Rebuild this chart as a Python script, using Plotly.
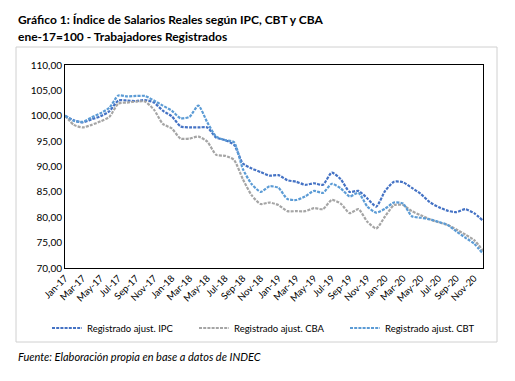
import plotly.graph_objects as go

# ---------------- data ----------------
months = [
    "Jan-17", "Feb-17", "Mar-17", "Apr-17", "May-17", "Jun-17", "Jul-17", "Aug-17", "Sep-17", "Oct-17", "Nov-17", "Dec-17",
    "Jan-18", "Feb-18", "Mar-18", "Apr-18", "May-18", "Jun-18", "Jul-18", "Aug-18", "Sep-18", "Oct-18", "Nov-18", "Dec-18",
    "Jan-19", "Feb-19", "Mar-19", "Apr-19", "May-19", "Jun-19", "Jul-19", "Aug-19", "Sep-19", "Oct-19", "Nov-19", "Dec-19",
    "Jan-20", "Feb-20", "Mar-20", "Apr-20", "May-20", "Jun-20", "Jul-20", "Aug-20", "Sep-20", "Oct-20", "Nov-20", "Dec-20",
]
tick_labels = months[::2]

ipc = [100.0, 99.1, 98.7, 99.3, 99.9, 100.9, 103.0, 103.0, 102.9, 103.1, 102.6, 101.0,
       99.9, 97.9, 97.7, 97.7, 97.7, 95.7, 95.2, 94.3, 90.6, 89.6, 88.9, 88.2,
       88.3, 87.3, 87.0, 86.4, 86.7, 86.4, 88.8, 87.5, 85.0, 85.2, 83.7, 82.1,
       85.2, 87.0, 86.9, 85.8, 84.6, 83.0, 82.0, 81.3, 81.0, 81.6, 80.8, 79.3]

cba = [100.0, 98.2, 97.7, 98.2, 98.9, 99.8, 102.4, 102.6, 102.8, 102.8, 101.2, 98.4,
       97.5, 95.5, 95.5, 95.9, 94.9, 92.3, 92.1, 91.3, 87.5, 84.3, 82.6, 82.9,
       82.4, 81.2, 81.2, 81.2, 81.8, 81.6, 83.4, 82.7, 80.8, 81.6, 79.1, 77.8,
       80.2, 82.4, 82.4, 81.2, 80.4, 79.6, 79.0, 78.5, 77.6, 76.6, 75.5, 73.4]

cbt = [100.0, 99.0, 98.8, 99.7, 100.5, 101.6, 104.0, 103.8, 103.9, 103.9, 103.0, 102.0,
       101.0, 99.5, 99.8, 102.0, 98.7, 95.9, 95.2, 94.8, 89.5, 86.5, 85.0, 86.1,
       85.8, 83.6, 83.4, 84.1, 85.2, 84.8, 86.6, 85.7, 84.1, 84.8, 82.1, 80.9,
       81.7, 82.9, 82.7, 80.2, 79.9, 79.6, 79.1, 78.5, 77.2, 76.0, 74.8, 72.8]

series_names = ["Registrado ajust. IPC", "Registrado ajust. CBA", "Registrado ajust. CBT"]
series_colors = ["#4472C4", "#A5A5A5", "#5B9BD5"]

FONT = "Lato, Carlito, Calibri, sans-serif"

# ---------------- layout geometry ----------------
# The page body has an 8px margin, so the figure is shrunk by that offset
# and every target position (given in page pixels) is converted.
PAGE_W, PAGE_H, OFF = 515, 381, 8
W, H = PAGE_W - OFF, PAGE_H - OFF
PLOT_L, PLOT_R, PLOT_T, PLOT_B = 65, 483, 65, 268   # page pixels
L = PLOT_L - OFF
T = PLOT_T - OFF
R = PAGE_W - PLOT_R
B = PAGE_H - PLOT_B
pw, ph = PLOT_R - PLOT_L, PLOT_B - PLOT_T


def px(x):
    return (x - PLOT_L) / pw


def py(y):
    return (PLOT_B - y) / ph


def cx(x):
    return (x - OFF) / W


def cy(y):
    return 1 - (y - OFF) / H


legend_ids = ["legend", "legend2", "legend3"]
legend_x = [47, 194, 345]   # page pixels

fig = go.Figure()
for name, vals, col, lid in zip(series_names, [ipc, cba, cbt], series_colors, legend_ids):
    fig.add_trace(go.Scatter(
        x=months, y=vals, mode="lines", name=name, legend=lid,
        line=dict(color=col, width=2.2, dash="3px,1.2px", shape="spline", smoothing=0.6),
    ))

legend_common = dict(
    orientation="h", xref="container", yref="container",
    xanchor="left", y=cy(328), yanchor="middle",
    font=dict(family=FONT, size=9.5, color="#000000"),
    itemwidth=30, bgcolor="rgba(0,0,0,0)",
)

fig.update_layout(
    width=W, height=H,
    margin=dict(l=L, r=R, t=T, b=B, autoexpand=False),
    paper_bgcolor="white", plot_bgcolor="white",
    separators=",.",
    font=dict(family=FONT, color="#000000", size=10),
    showlegend=True,
    legend=dict(legend_common, x=cx(legend_x[0])),
    legend2=dict(legend_common, x=cx(legend_x[1])),
    legend3=dict(legend_common, x=cx(legend_x[2])),
    xaxis=dict(
        type="category", range=[0, len(months) - 1],
        tickmode="array", tickvals=tick_labels, ticktext=tick_labels,
        tickangle=-45, tickfont=dict(family=FONT, size=9.5, color="#000000"),
        showgrid=False, zeroline=False,
        showline=True, linecolor="#000000", linewidth=1, mirror=True,
        ticks="", ticklen=0,
    ),
    yaxis=dict(
        range=[70, 110], dtick=5, tick0=70, tickformat=".2f",
        tickfont=dict(family=FONT, size=10, color="#000000"),
        showgrid=False, zeroline=False,
        showline=True, linecolor="#000000", linewidth=1, mirror=True,
        ticks="", ticklen=0,
    ),
    shapes=[dict(
        type="rect", xref="paper", yref="paper",
        x0=px(16), x1=px(497), y0=py(342), y1=py(47),
        line=dict(color="#D0D0D0", width=1), fillcolor="rgba(0,0,0,0)", layer="below",
    )],
    annotations=[
        dict(text="<b>Gráfico 1: Índice de Salarios Reales según IPC, CBT y CBA</b>",
             xref="paper", yref="paper", x=px(16), y=py(19), xanchor="left", yanchor="middle",
             showarrow=False, font=dict(family=FONT, size=12, color="#000000")),
        dict(text="<b>ene-17=100 - Trabajadores Registrados</b>",
             xref="paper", yref="paper", x=px(16), y=py(37), xanchor="left", yanchor="middle",
             showarrow=False, font=dict(family=FONT, size=12, color="#000000")),
        dict(text="<i>Fuente: Elaboración propia en base a datos de INDEC</i>",
             xref="paper", yref="paper", x=px(16), y=py(356), xanchor="left", yanchor="middle",
             showarrow=False, font=dict(family=FONT, size=11, color="#000000")),
    ],
)

fig.write_html("out.html")
